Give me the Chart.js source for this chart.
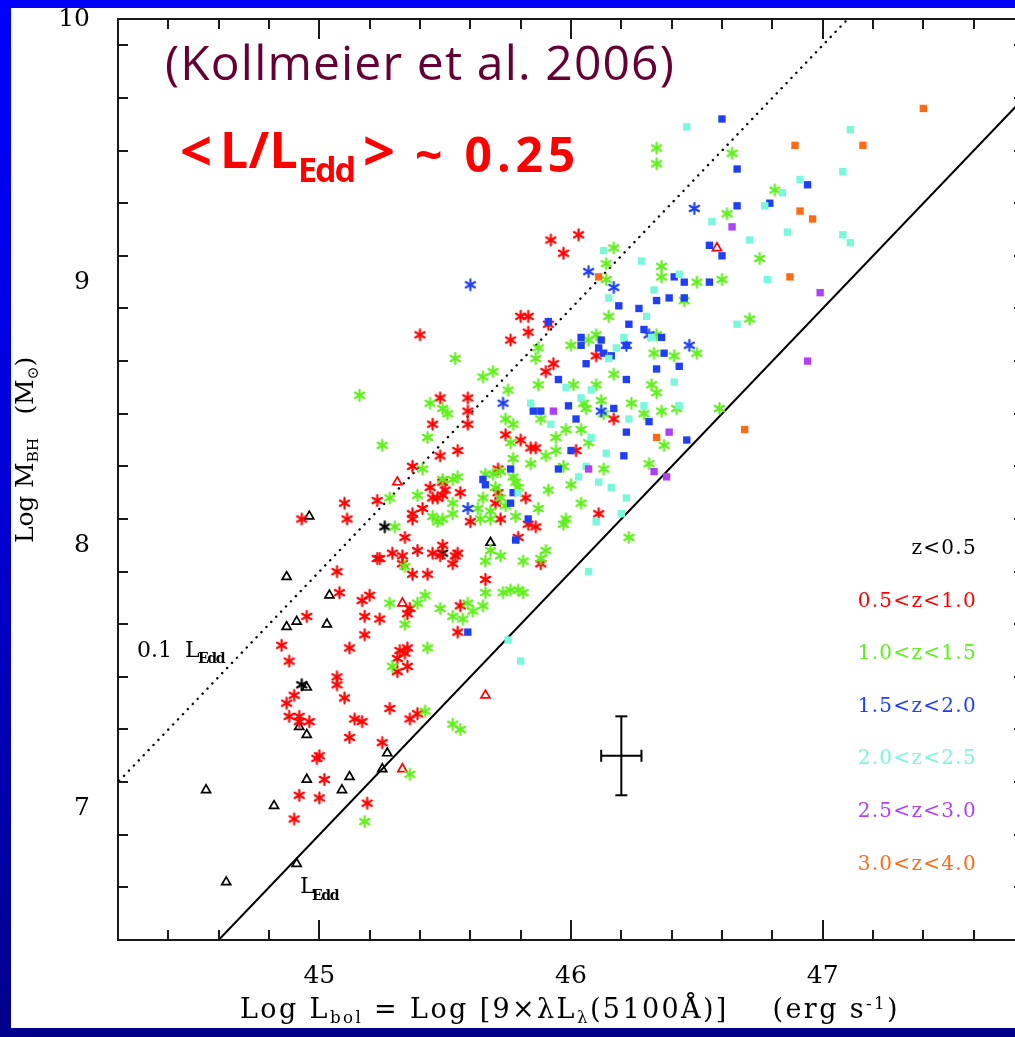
<!DOCTYPE html>
<html><head><meta charset="utf-8">
<script src="https://cdn.jsdelivr.net/npm/chart.js@4.4.1/dist/chart.umd.min.js"></script>
<style>
html,body{margin:0;padding:0;overflow:hidden;}
body{width:1015px;height:1037px;position:relative;background:linear-gradient(to bottom,#0000ff 0%,#0000d8 45%,#00008a 100%);}
#paper{position:absolute;left:11px;top:8px;width:1004px;height:1020px;background:#fff;}
#wrap{position:absolute;left:0;top:0;width:1040px;height:1037px;}
.t{position:absolute;white-space:nowrap;line-height:1;}
.probe{display:inline-block;width:0;height:0;vertical-align:baseline;}
sub{font-size:0.62em;vertical-align:-0.32em;line-height:0;}
sup{font-size:0.62em;vertical-align:0.55em;line-height:0;}
</style></head>
<body>
<div id="paper"></div>
<div id="wrap"><canvas id="c" width="1040" height="1037"></canvas></div>
<script>
// ---------------- data (Log L_bol, Log M_BH) ----------------
const zLt05Tri = [[44.96,8.11],[44.87,7.88],[45.04,7.81],[44.87,7.69],[44.91,7.71],[45.03,7.70],[44.95,7.46],[44.92,7.31],[44.95,7.28],[45.27,7.21],[45.25,7.15],[44.95,7.11],[45.12,7.12],[45.09,7.07],[44.82,7.01],[44.55,7.07],[44.91,6.79],[44.63,6.72],[45.68,8.01]];
const zLt05Ast = [[45.26,8.07],[44.93,7.47],[45.49,7.97]];
const z05to10Tri = [[45.31,8.24],[45.33,7.78],[45.33,7.15],[45.66,7.43],[46.58,9.13]];
const z05to10Ast = [[45.37,8.30],[45.10,8.16],[45.23,8.17],[44.93,8.10],[45.11,8.10],[45.37,8.12],[45.37,8.10],[45.34,8.03],[45.39,7.98],[45.23,7.95],
[45.24,7.95],[45.29,7.97],[45.33,7.96],[45.33,7.93],[45.37,7.89],[45.07,7.90],[45.08,7.82],[45.17,7.79],[45.20,7.81],[45.18,7.73],
[45.24,7.72],[44.95,7.73],[45.18,7.66],[45.35,7.74],[45.36,7.76],[44.85,7.62],[44.88,7.56],[45.12,7.61],[45.32,7.60],[45.34,7.59],
[45.35,7.61],[45.31,7.57],[45.31,7.52],[45.35,7.54],[45.07,7.50],[45.07,7.47],[44.90,7.43],[44.87,7.40],[45.10,7.42],[44.88,7.35],
[44.92,7.35],[44.92,7.33],[44.96,7.33],[45.14,7.34],[45.17,7.33],[45.28,7.38],[45.36,7.34],[45.39,7.36],[45.12,7.27],[45.25,7.25],
[44.99,7.19],[45.00,7.20],[45.02,7.11],[44.92,7.05],[45.00,7.04],[45.19,7.02],[44.90,6.96],
[45.97,9.11],[45.40,8.80],[45.80,8.87],[45.83,8.87],[45.83,8.81],[45.76,8.78],[45.91,8.84],[45.93,8.69],[45.90,8.66],[46.10,8.72],
[45.48,8.56],[45.59,8.56],[45.59,8.51],[45.45,8.46],[45.59,8.46],[45.55,8.36],[45.48,8.34],[45.74,8.42],[45.80,8.40],[45.84,8.37],
[45.86,8.37],[46.02,8.36],[46.17,8.48],[45.49,8.24],[45.50,8.21],[45.44,8.22],[45.56,8.20],[45.45,8.18],[45.47,8.18],[45.49,8.19],
[45.41,8.14],[45.71,8.29],[45.70,8.16],[45.71,8.20],[45.72,8.10],[45.60,8.09],[45.82,8.18],[45.83,8.08],[45.86,8.07],[45.79,8.03],
[46.11,8.12],[45.45,7.97],[45.48,7.96],[45.49,8.00],[45.55,7.97],[45.54,7.96],[45.53,7.93],[45.43,7.89],[45.66,7.87],[45.88,7.93],
[46.03,9.18],[45.92,9.16],[45.56,7.77],[45.55,7.67]];
const z10to15Ast = [[45.28,8.18],[45.39,8.19],[45.30,8.07],[45.34,7.92],[45.28,7.78],[45.39,7.78],[45.34,7.70],[45.29,7.54],[45.36,7.13],[45.18,6.95],
[45.16,8.57],[45.25,8.38],[45.44,8.54],[45.43,8.41],[45.41,8.29],[45.42,7.81],[45.48,7.76],[45.53,7.73],[45.57,7.72],[45.59,7.78],
[45.61,7.75],[45.65,7.77],[45.66,7.82],[45.73,7.82],[45.76,7.83],[45.79,7.83],[45.81,7.82],[45.43,7.61],[45.42,7.37],[45.53,7.32],
[45.56,7.30],
[46.14,9.07],[46.14,9.01],[46.36,9.06],[46.36,9.02],[46.50,9.00],[46.45,8.93],[46.15,8.87],[45.87,8.75],[45.86,8.71],
[46.00,8.76],[46.10,8.80],[46.07,8.78],[45.54,8.71],[45.65,8.64],[45.69,8.66],[45.75,8.59],[45.87,8.61],[46.01,8.61],[46.10,8.61],
[46.17,8.65],[46.33,8.73],[46.41,8.72],[46.50,8.73],[46.32,8.61],[46.34,8.58],[46.24,8.54],[46.12,8.55],[46.05,8.54],[46.06,8.52],
[46.13,8.50],[46.29,8.50],[46.36,8.51],[46.42,8.52],[45.49,8.52],[45.51,8.50],[45.74,8.48],[45.77,8.46],[45.88,8.48],[45.98,8.44],
[46.04,8.44],[45.94,8.41],[46.07,8.39],[45.94,8.36],[45.90,8.34],[45.76,8.39],[45.77,8.33],[45.84,8.31],[45.97,8.30],[46.13,8.29],
[46.31,8.31],[46.37,8.38],[45.49,8.25],[45.53,8.25],[45.55,8.26],[45.66,8.27],[45.69,8.27],[45.72,8.28],[45.77,8.26],
[45.78,8.24],[45.79,8.22],[45.70,8.22],[45.72,8.18],[45.65,8.18],[45.53,8.16],[45.53,8.12],[45.63,8.14],[45.68,8.13],[45.74,8.15],
[45.64,8.10],[45.68,8.10],[45.45,8.11],[45.47,8.09],[45.49,8.10],[45.78,8.11],[45.87,8.14],[45.91,8.21],[46.00,8.23],[46.04,8.16],
[45.97,8.08],[45.98,8.10],[46.23,8.03],[45.68,7.98],[45.72,7.96],[45.66,7.94],[45.81,7.94],[45.88,7.95],[45.90,7.98],
[46.34,9.51],[46.34,9.45],[46.64,9.49],[46.81,9.35],[46.62,9.26],[46.75,9.09],[46.60,9.01],[46.17,9.13],[46.71,8.86],[46.34,8.80],[46.59,8.52]];
const z15to20Sq = [[45.91,8.85],[46.19,8.91],[46.27,8.90],[46.34,8.93],[46.39,8.94],[46.45,8.94],[46.41,9.02],[46.45,9.00],[46.23,8.84],[46.29,8.82],
[46.36,8.79],[46.04,8.79],[46.04,8.76],[46.12,8.78],[46.11,8.75],[46.13,8.73],[46.16,8.72],[46.06,8.69],[46.22,8.76],[46.34,8.67],
[46.37,8.73],[46.43,8.68],[46.22,8.63],[45.95,8.63],[45.99,8.53],[46.02,8.48],[45.85,8.51],[45.88,8.51],[46.17,8.52],[46.31,8.47],
[46.22,8.43],[46.46,8.40],[46.21,8.34],[46.00,8.36],[45.95,8.29],[45.76,8.29],[45.65,8.25],[45.66,8.23],[45.77,8.20],[45.76,8.16],
[45.83,8.10],[45.78,8.02],[45.59,7.67],[46.60,9.62],[46.66,9.43],[46.94,9.37],[46.66,9.29],[46.79,9.30],[46.55,9.14],[46.60,9.10],[46.55,9.00]];
const z15to20Ast = [[45.60,8.99],[46.07,9.04],[46.17,8.98],[46.22,8.76],[46.31,8.80],[46.47,8.76],[45.73,8.54],[46.12,8.51],[45.59,8.14],[46.49,9.28]];
const z20to25Sq = [[46.13,9.12],[46.28,9.08],[46.43,9.03],[46.33,8.97],[46.15,8.94],[46.30,8.87],[46.21,8.79],[46.32,8.79],[46.18,8.75],[46.15,8.71],
[46.41,8.62],[45.98,8.60],[46.08,8.59],[46.04,8.56],[45.84,8.54],[45.92,8.46],[46.23,8.48],[46.29,8.53],[46.43,8.53],[46.08,8.41],
[46.14,8.35],[46.06,8.30],[46.03,8.26],[46.11,8.24],[46.16,8.22],[46.22,8.18],[46.20,8.12],[46.10,8.09],[45.79,8.20],[46.07,7.90],
[45.75,7.64],[45.80,7.56],[46.46,9.59],[47.11,9.58],[47.08,9.42],[46.91,9.39],[46.84,9.34],[46.77,9.29],[46.56,9.23],[46.71,9.16],
[46.86,9.19],[47.08,9.18],[47.11,9.15],[46.78,9.01],[46.66,8.84]];
const z25to30Sq = [[45.93,8.51],[46.39,8.43],[46.07,8.29],[46.33,8.28],[46.38,8.26],[46.64,9.21],[46.99,8.96],[46.94,8.70]];
const z30to40Sq = [[47.40,9.66],[46.89,9.52],[47.16,9.52],[46.91,9.27],[46.96,9.24],[46.87,9.02],[46.11,9.02],[46.34,8.41],[46.69,8.44]];

const legendLabels = ['z<0.5','0.5<z<1.0','1.0<z<1.5','1.5<z<2.0','2.0<z<2.5','2.5<z<3.0','3.0<z<4.0'];
const xTickLabels = [45, 46, 47];
const yTickLabels = [7, 8, 9, 10];
const eddOffset = 38.1;          // Log L_Edd = Log M_BH + 38.1
const lineMassRange = [6.5, 10];
const errorBar = {x: 46.2, y: 7.2, dx: 0.08, dy: 0.15};

// ---------------- styles ----------------
const COL = {k:'#000000', r:'#ff0000', g:'#5ef01a', b:'#1f3ff5', c:'#7af8dc', p:'#b040f8', o:'#ff6a14'};
const X_MIN = 44.2, X_MAX = 47.8, Y_MIN = 6.5, Y_MAX = 10, MINOR = 0.2;

function asterisk(color){
  const s = 15, c = document.createElement('canvas'); c.width = s; c.height = s;
  const g = c.getContext('2d'); g.strokeStyle = color; g.lineWidth = 2.2; g.lineCap = 'round';
  const r = 5.4;
  for (const a of [90, 30, 150]) {
    const t = a*Math.PI/180;
    g.beginPath(); g.moveTo(s/2 - r*Math.cos(t), s/2 - r*Math.sin(t)); g.lineTo(s/2 + r*Math.cos(t), s/2 + r*Math.sin(t)); g.stroke();
  }
  return c;
}
const pts = a => a.map(([x,y]) => ({x,y}));
function astSet(data, color, order){ return {type:'scatter', data:pts(data), pointStyle:asterisk(color), pointRadius:6, order}; }
function sqSet(data, color, order){ return {type:'scatter', data:pts(data), pointStyle:'rect', pointRadius:5.2, pointBackgroundColor:color, pointBorderWidth:0, order}; }
function triSet(data, color, order){ return {type:'scatter', data:pts(data), pointStyle:'triangle', pointRadius:5.2, pointBackgroundColor:'rgba(0,0,0,0)', pointBorderColor:color, pointBorderWidth:1.7, order}; }
function relLine(offset, dash){
  return {type:'line', data:lineMassRange.map(m => ({x:m+offset, y:m})), borderColor:'#000', borderWidth: dash?2.4:2, borderDash: dash||[], pointRadius:0, showLine:true, order:100, borderCapStyle:'round'};
}
const e = errorBar;
const datasets = [
  relLine(eddOffset, null),
  relLine(eddOffset-1, [0.1, 7]),
  {type:'line', data:[{x:e.x-e.dx,y:e.y},{x:e.x+e.dx,y:e.y}], borderColor:'#000', borderWidth:2, pointStyle:'line', pointRotation:90, pointRadius:6, pointBorderWidth:2, pointBorderColor:'#000', order:90},
  {type:'line', data:[{x:e.x,y:e.y-e.dy},{x:e.x,y:e.y+e.dy}], borderColor:'#000', borderWidth:2, pointStyle:'line', pointRotation:0, pointRadius:6, pointBorderWidth:2, pointBorderColor:'#000', order:90},
  triSet(zLt05Tri, COL.k, 60), astSet(zLt05Ast, COL.k, 59),
  astSet(z05to10Ast, COL.r, 50), triSet(z05to10Tri, COL.r, 49),
  astSet(z10to15Ast, COL.g, 40),
  sqSet(z15to20Sq, COL.b, 30), astSet(z15to20Ast, COL.b, 29),
  sqSet(z20to25Sq, COL.c, 20),
  sqSet(z25to30Sq, COL.p, 10),
  sqSet(z30to40Sq, COL.o, 5)
];

const framePlugin = {
  id:'frame',
  afterDatasetsDraw(chart){
    const {ctx, chartArea:a, scales:{x, y}} = chart;
    ctx.save(); ctx.strokeStyle = '#1a1a1a'; ctx.lineWidth = 2;
    ctx.strokeRect(a.left, a.top, a.right-a.left, a.bottom-a.top);
    const seg = (x1,y1,x2,y2) => { ctx.beginPath(); ctx.moveTo(x1,y1); ctx.lineTo(x2,y2); ctx.stroke(); };
    const nx = Math.round((X_MAX-X_MIN)/MINOR);
    for (let i=1;i<nx;i++){ const v = X_MIN + i*MINOR; const major = Math.abs(v-Math.round(v))<1e-6; const L = major?20:10; const p = Math.round(x.getPixelForValue(v)); seg(p,a.bottom,p,a.bottom-L); seg(p,a.top,p,a.top+L); }
    const ny = Math.round((Y_MAX-Y_MIN)/MINOR);
    for (let i=1;i<ny;i++){ const v = Y_MIN + i*MINOR; const major = Math.abs(v-Math.round(v))<1e-6; const L = major?20:10; const p = Math.round(y.getPixelForValue(v)); seg(a.left,p,a.left+L,p); seg(a.right,p,a.right-L,p); }
    ctx.restore();
  }
};

const tickFont = {family:'"DejaVu Serif", serif', size:25};
const noPad = s => { s.paddingTop = 0; s.paddingBottom = 0; s.paddingLeft = 0; s.paddingRight = 0; };
new Chart(document.getElementById('c'), {
  type:'scatter',
  data:{datasets},
  options:{
    responsive:false, animation:false, events:[],
    layout:{padding:{left:0, top:19, right:16, bottom:0}},
    plugins:{legend:{display:false}, tooltip:{enabled:false}},
    scales:{
      x:{type:'linear', min:X_MIN, max:X_MAX, grid:{display:false}, border:{display:false},
         ticks:{font:tickFont, color:'#000', padding:13},
         afterBuildTicks:s => { s.ticks = xTickLabels.map(v => ({value:v})); },
         afterFit:s => { s.height = 97; noPad(s); }},
      y:{type:'linear', min:Y_MIN, max:Y_MAX, grid:{display:false}, border:{display:false},
         ticks:{font:tickFont, color:'#000', padding:20},
         afterBuildTicks:s => { s.ticks = yTickLabels.map(v => ({value:v})); },
         afterFit:s => { s.width = 118; noPad(s); }}
    }
  },
  plugins:[framePlugin]
});

// ---------------- text ----------------
function addText(html, o){
  const el = document.createElement('div');
  el.className = 't';
  Object.assign(el.style, {fontFamily:o.font, fontSize:o.size+'px', color:o.color||'#000', fontWeight:o.weight||'normal'});
  if (o.ls) el.style.letterSpacing = o.ls+'px';
  el.innerHTML = html + '<span class="probe"></span>';
  document.body.appendChild(el);
  if (o.width){
    const n = el.textContent.length;
    const w0 = el.getBoundingClientRect().width;
    el.style.letterSpacing = ((o.width - w0)/n)+'px';
  }
  const w = el.getBoundingClientRect().width;
  const baseOff = el.querySelector('.probe').offsetTop;
  if (o.rotate){
    el.style.transformOrigin = '0 0'; el.style.transform = 'rotate(-90deg)';
    el.style.left = (o.x - baseOff)+'px'; el.style.top = (o.y + w/2)+'px';
  } else {
    let left = o.x;
    if (o.align === 'center') left = o.x - w/2;
    if (o.align === 'right') left = o.x - w;
    el.style.left = left+'px'; el.style.top = (o.base - baseOff)+'px';
  }
  return el;
}
const SERIF = '"DejaVu Serif", serif';
const COMIC = '"Open Sans", sans-serif';
addText('Log M<sub>BH</sub>&nbsp;&nbsp; (M<sub>⊙</sub>)', {font:SERIF, size:25, x:33, y:450, rotate:true, width:186});
addText('Log L<sub>bol</sub> = Log [9×λL<sub>λ</sub>(5100Å)] &nbsp;&nbsp; (erg s<sup>-1</sup>)', {font:SERIF, size:27, x:240, base:1018, width:660});
addText('0.1', {font:SERIF, size:22, x:137, base:657});
addText('L', {font:SERIF, size:22, x:185, base:657});
addText('Edd', {font:SERIF, size:14, weight:'bold', x:198, base:663, width:26});
addText('L', {font:SERIF, size:22, x:300, base:893});
addText('Edd', {font:SERIF, size:14, weight:'bold', x:312, base:900, width:26});
const legCols = [COL.k, COL.r, COL.g, COL.b, COL.c, COL.p, COL.o];
legendLabels.forEach((t,i) => addText(t.replace(/</g,'&lt;'), {font:SERIF, size:20, ls:1.3, color:legCols[i], x:977, base:554 + i*52.6, align:'right'}));
addText('(Kollmeier et al. 2006)', {font:COMIC, size:48, color:'#660033', x:165, base:80, width:510});
addText('&lt;', {font:COMIC, size:56, weight:'bold', color:'#ff0000', x:180, base:171});
addText('L/L', {font:COMIC, size:50, weight:'bold', color:'#ff0000', x:220, base:168, width:78});
addText('Edd', {font:COMIC, size:34, weight:'bold', color:'#ff0000', x:298, base:182, width:56});
addText('&gt;', {font:COMIC, size:56, weight:'bold', color:'#ff0000', x:363, base:171});
addText('~ 0.25', {font:COMIC, size:48, weight:'bold', color:'#ff0000', x:415, base:172, width:165});
</script>
</body></html>
